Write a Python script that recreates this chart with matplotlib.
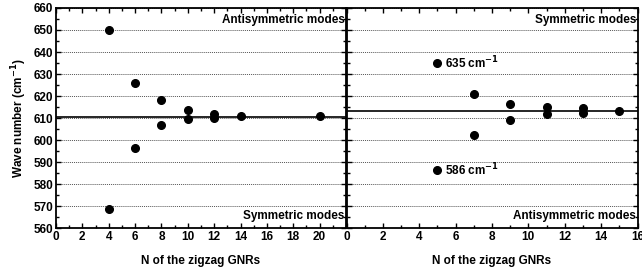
import numpy as np
import matplotlib.pyplot as plt
from matplotlib.ticker import MultipleLocator

plt.rcParams['font.family'] = ['Liberation Sans', 'DejaVu Sans']
plt.rcParams['font.weight'] = 'bold'
plt.rcParams['axes.labelweight'] = 'bold'
plt.rcParams['mathtext.default'] = 'bf'

# 左图：N 为偶数
left_n = [4, 4, 6, 6, 8, 8, 10, 10, 12, 12, 14, 20]
left_w = [650, 568.5, 626, 596.5, 618.2, 606.8, 613.6, 609.5, 612.0, 610.1, 610.8, 610.8]
left_ref = 610.4
left_ticks = [0, 2, 4, 6, 8, 10, 12, 14, 16, 18, 20]

# 右图：N 为奇数
right_n = [5, 5, 7, 7, 9, 9, 11, 11, 13, 13, 15]
right_w = [635.1, 586.5, 620.8, 602.5, 616.2, 609.1, 614.8, 611.7, 614.4, 612.4, 613.2]
right_ref = 613.2
right_ticks = [0, 2, 4, 6, 8, 10, 12, 14, 16]

fig = plt.figure(figsize=(6.42, 2.75), dpi=100)
ax1 = fig.add_axes([56 / 642, 47 / 275, 290 / 642, 220 / 275])
ax2 = fig.add_axes([346.5 / 642, 47 / 275, 291 / 642, 220 / 275])

for ax in (ax1, ax2):
    ax.set_ylim(560, 660)
    ax.yaxis.set_major_locator(MultipleLocator(10))
    ax.yaxis.set_minor_locator(MultipleLocator(5))
    ax.xaxis.set_minor_locator(MultipleLocator(1))
    ax.grid(True, axis='y', which='major', linestyle=(0, (1, 1)), color='#555555', linewidth=0.7)
    ax.tick_params(which='both', direction='in', top=True, right=True, labelsize=8.5, width=1, pad=2)
    ax.tick_params(which='major', length=3.5)
    ax.tick_params(which='minor', length=2)
    for s in ax.spines.values():
        s.set_linewidth(1.3)
    ax.set_xlabel('N of the zigzag GNRs', fontsize=8.5, labelpad=9)

ax1.set_xlim(0, 22)
ax1.set_xticks(left_ticks)
ax1.plot(left_n, left_w, 'o', color='black', markersize=5.5)
ax1.axhline(left_ref, color='black', linewidth=1.2)
ax1.set_ylabel('Wave number (cm$^{-1}$)', fontsize=8.5, labelpad=3)
ax1.text(0.995, 0.975, 'Antisymmetric modes', transform=ax1.transAxes, ha='right', va='top', fontsize=8.5)
ax1.text(0.995, 0.025, 'Symmetric modes', transform=ax1.transAxes, ha='right', va='bottom', fontsize=8.5)

ax2.set_xlim(0, 16)
ax2.set_xticks(right_ticks)
ax2.plot(right_n, right_w, 'o', color='black', markersize=5.5)
ax2.axhline(right_ref, color='black', linewidth=1.2)
ax2.tick_params(labelleft=False)
ax2.text(5.4, right_w[0], '635 cm$^{-1}$', ha='left', va='center', fontsize=8.5)
ax2.text(5.4, right_w[1], '586 cm$^{-1}$', ha='left', va='center', fontsize=8.5)
ax2.text(0.995, 0.975, 'Symmetric modes', transform=ax2.transAxes, ha='right', va='top', fontsize=8.5)
ax2.text(0.995, 0.025, 'Antisymmetric modes', transform=ax2.transAxes, ha='right', va='bottom', fontsize=8.5)

for ax in (ax1, ax2):
    for lbl in ax.get_xticklabels() + ax.get_yticklabels():
        lbl.set_fontweight('bold')

fig.savefig('out.png', dpi=100)
